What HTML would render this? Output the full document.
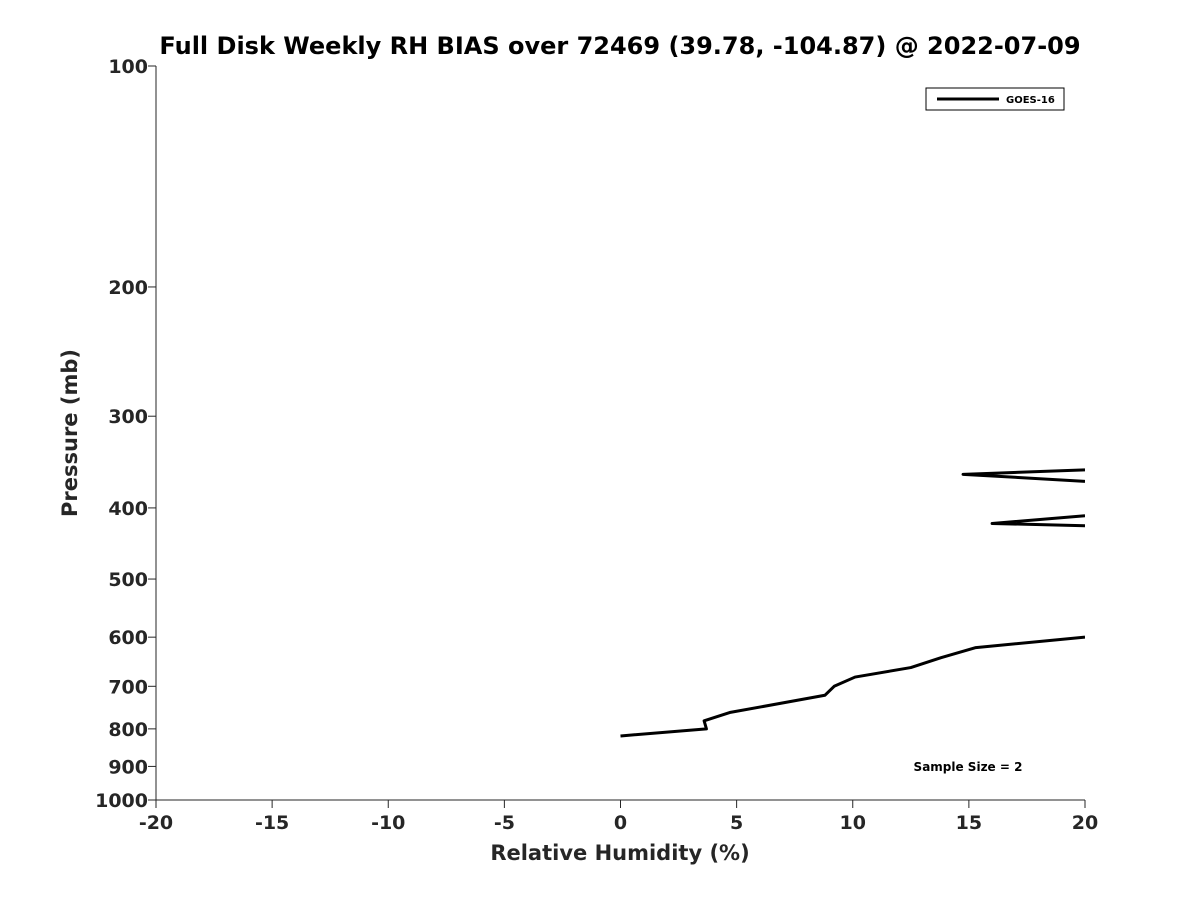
<!DOCTYPE html>
<html><head><meta charset="utf-8"><style>
body{margin:0;background:#fff;}
text{font-family:"DejaVu Sans","Liberation Sans",sans-serif;font-weight:bold;fill:#262626;}
</style></head><body>
<svg id="chart" width="1200" height="900" xmlns="http://www.w3.org/2000/svg">
<defs><clipPath id="plotclip"><rect x="156" y="66" width="929" height="734"/></clipPath></defs>
<text x="620" y="54" text-anchor="middle" font-size="24" style="fill:#000">Full Disk Weekly RH BIAS over 72469 (39.78, -104.87) @ 2022-07-09</text>
<g id="axes"></g>
<g id="series" clip-path="url(#plotclip)"></g>
<g>
<rect x="926" y="88" width="138" height="22" fill="#fff" stroke="#000" stroke-width="1"/>
<line x1="937" y1="99" x2="999" y2="99" stroke="#000" stroke-width="3"/>
<text x="1006" y="103" font-size="10" style="fill:#000">GOES-16</text>
</g>
<text x="968" y="771" text-anchor="middle" font-size="12" style="fill:#000">Sample Size = 2</text>
<text x="620" y="860" text-anchor="middle" font-size="21">Relative Humidity (%)</text>
<text transform="translate(77,433) rotate(-90)" text-anchor="middle" font-size="21">Pressure (mb)</text>
</svg>
<script>
const xTicks=[-20,-15,-10,-5,0,5,10,15,20];
const yTicks=[100,200,300,400,500,600,700,800,900,1000];
const seg1RH=[0,3.7,3.6,4.7,8.8,9.2,10.1,12.5,13.8,15.3,20];
const seg1P=[818,800,780,760,720,700,680,660,640,620,600];
const seg2RH=[20,16,20];
const seg2P=[423,420,410];
const seg3RH=[20,14.75,20];
const seg3P=[368,360,355];
const X0=156,X1=1085,Y0=66,Y1=800;
function xs(v){return X0+(v+20)/40*(X1-X0);}
function ys(p){return Y0+(Math.log10(p)-2)*(Y1-Y0);}
const NS="http://www.w3.org/2000/svg";
const axes=document.getElementById('axes');
function mk(t,a,p){const e=document.createElementNS(NS,t);for(const k in a)e.setAttribute(k,a[k]);p.appendChild(e);return e;}
const xa=mk('line',{x1:X0,y1:Y1,x2:X1,y2:Y1,stroke:'#262626','stroke-width':1},axes);


const ya=mk('line',{x1:X0,y1:Y0,x2:X0,y2:Y1,stroke:'#262626','stroke-width':1},axes);


xTicks.forEach(v=>{const x=xs(v);
mk('line',{x1:x,y1:Y1,x2:x,y2:Y1+8,stroke:'#262626'},axes);
const t=mk('text',{x:x,y:Y1+29,'text-anchor':'middle','font-size':19},axes);t.textContent=v;

});
yTicks.forEach(v=>{const y=ys(v);
mk('line',{x1:X0-8,y1:y,x2:X0,y2:y,stroke:'#262626'},axes);
const t=mk('text',{x:X0-8,y:y+7,'text-anchor':'end','font-size':19},axes);t.textContent=v;

});
const ser=document.getElementById('series');
[[seg1RH,seg1P],[seg2RH,seg2P],[seg3RH,seg3P]].forEach(([r,p],i)=>{
const pts=r.map((v,j)=>xs(v)+','+ys(p[j])).join(' ');
const pl=mk('polyline',{points:pts,fill:'none',stroke:'#000','stroke-width':3,'stroke-linejoin':'round'},ser);

});
</script>
</body></html>
